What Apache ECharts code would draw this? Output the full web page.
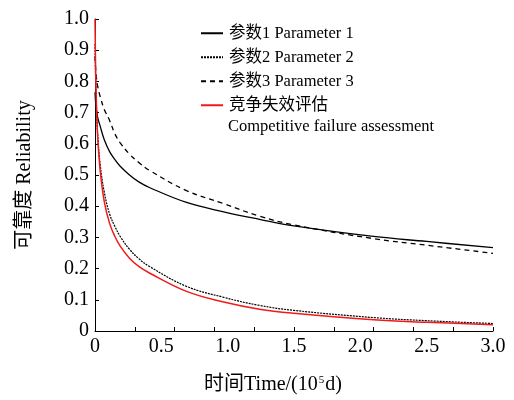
<!DOCTYPE html>
<html>
<head>
<meta charset="utf-8">
<script src="https://cdn.jsdelivr.net/npm/echarts@6/dist/echarts.min.js"></script>
<style>
  html, body { margin: 0; padding: 0; background: #fff; }
  #chart { width: 514px; height: 400px; }
</style>
</head>
<body>
<div id="chart"></div>
<script>
// time in 10^5 d
var times = [0, 0.005, 0.01, 0.02, 0.04, 0.07, 0.11, 0.15, 0.19, 0.26, 0.33, 0.41, 0.69, 0.97, 1.24, 1.5, 2.1, 2.5, 3.0];
var param1 = [0.765, 0.73, 0.71, 0.685, 0.655, 0.613, 0.575, 0.549, 0.528, 0.5, 0.478, 0.46, 0.412, 0.382, 0.358, 0.337, 0.303, 0.287, 0.267];
var param2 = [0.92, 0.80, 0.73, 0.63, 0.53, 0.445, 0.375, 0.335, 0.303, 0.262, 0.232, 0.207, 0.143, 0.108, 0.082, 0.066, 0.043, 0.033, 0.024];
var param3 = [0.88, 0.84, 0.815, 0.785, 0.75, 0.71, 0.675, 0.632, 0.603, 0.567, 0.54, 0.515, 0.45, 0.408, 0.368, 0.34, 0.296, 0.275, 0.249];
var competing = [1.0, 0.83, 0.74, 0.625, 0.51, 0.415, 0.345, 0.303, 0.272, 0.233, 0.207, 0.186, 0.127, 0.093, 0.07, 0.057, 0.036, 0.028, 0.020];

var names = ['参数1 Parameter 1', '参数2 Parameter 2', '参数3 Parameter 3', '竞争失效评估'];
var font = '"Liberation Serif", "Noto Sans CJK SC", serif';

function pairs(vals) {
  return times.map(function (t, i) { return [t, vals[i]]; });
}

function lineSeries(name, vals, color, width, type) {
  return {
    name: name,
    type: 'line',
    data: pairs(vals),
    symbol: 'none',
    smooth: 0.4,
    lineStyle: { color: color, width: width, type: type },
    itemStyle: { color: color }
  };
}

var chart = echarts.init(document.getElementById('chart'));
chart.setOption({
  animation: false,
  grid: { left: 95, right: 21, top: 19, bottom: 67 },
  legend: {
    orient: 'vertical',
    left: 200,
    top: 25,
    padding: 0,
    itemWidth: 22,
    itemHeight: 14,
    itemGap: 7.5,
    data: names,
    itemStyle: { opacity: 0 },
    textStyle: { fontFamily: font, fontSize: 16.5, color: '#000', padding: [0, 0, 0, 1] }
  },
  graphic: [{
    type: 'text',
    left: 228,
    top: 118,
    style: { text: 'Competitive failure assessment', font: '16.5px ' + font, fill: '#000' }
  }],
  xAxis: [{
    type: 'value',
    min: 0,
    max: 3,
    interval: 0.5,
    splitLine: { show: false },
    axisLine: { lineStyle: { color: '#000', width: 1 } },
    axisTick: { show: false },
    axisLabel: {
      color: '#000', fontFamily: font, fontSize: 20, margin: 6,
      formatter: function (v) { return v === 0 ? '0' : v.toFixed(1); }
    },
    name: '时间Time/(10{sup|5}d)',
    nameLocation: 'middle',
    nameGap: 44,
    nameTextStyle: {
      fontFamily: font, fontSize: 20, color: '#000', padding: [0, 42, 0, 0],
      rich: { sup: { fontFamily: font, fontSize: 11, color: '#000', verticalAlign: 'top', padding: [0, 1, 8, 1] } }
    }
  }, {
    type: 'value',
    min: 0,
    max: 3,
    interval: 0.3,
    position: 'bottom',
    splitLine: { show: false },
    axisLine: { show: false },
    axisTick: { inside: true, length: 4, lineStyle: { color: '#000' } },
    axisLabel: { show: false }
  }],
  yAxis: {
    type: 'value',
    min: 0,
    max: 1,
    interval: 0.1,
    splitLine: { show: false },
    axisLine: { show: true, lineStyle: { color: '#000', width: 1 } },
    axisTick: { show: true, inside: true, length: 4, lineStyle: { color: '#000' } },
    axisLabel: {
      color: '#000', fontFamily: font, fontSize: 20, margin: 6,
      formatter: function (v) { return v === 0 ? '0' : v.toFixed(1); }
    },
    name: '可靠度 Reliability',
    nameLocation: 'middle',
    nameGap: 60,
    nameTextStyle: { fontFamily: font, fontSize: 20, color: '#000' }
  },
  series: [
    lineSeries(names[0], param1, '#000', 1.3, 'solid'),
    lineSeries(names[1], param2, '#000', 1.2, [2, 1]),
    lineSeries(names[2], param3, '#000', 1.3, [5, 4]),
    lineSeries(names[3], competing, '#f01a1a', 1.5, 'solid')
  ]
});
</script>
</body>
</html>
